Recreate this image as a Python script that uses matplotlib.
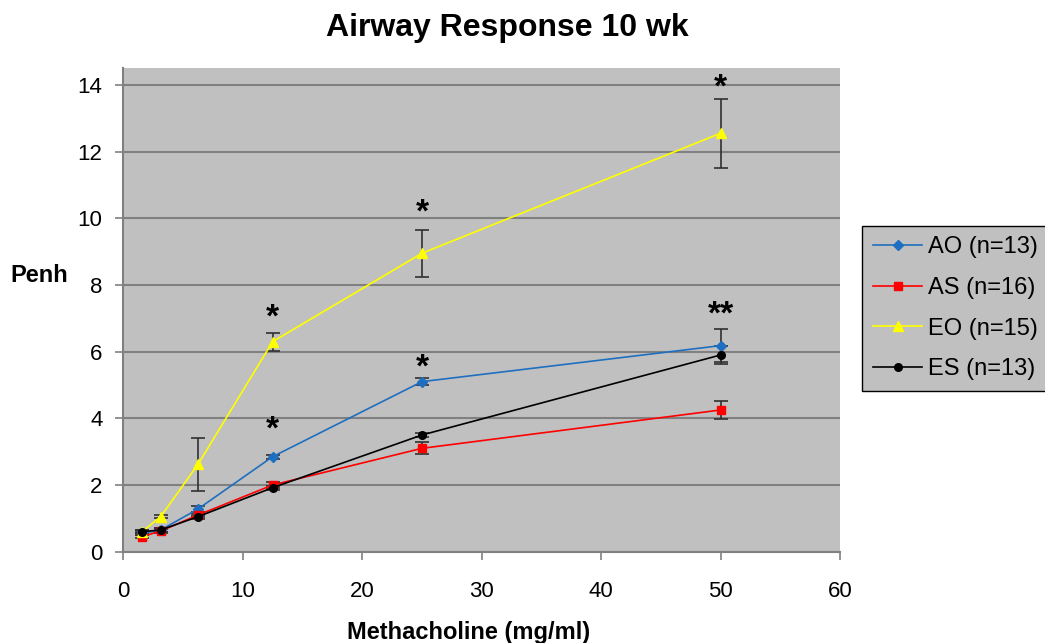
import matplotlib
matplotlib.use("Agg")
import matplotlib.pyplot as plt

plt.rcParams['font.family'] = ['Liberation Sans', 'DejaVu Sans']

dose = [1.5625, 3.125, 6.25, 12.5, 25, 50]
series_names = ["AO (n=13)", "AS (n=16)", "EO (n=15)", "ES (n=13)"]
ao = [0.55, 0.65, 1.28, 2.85, 5.10, 6.18]
ao_err = [0.05, 0.05, 0.08, 0.06, 0.10, 0.50]
as_ = [0.45, 0.62, 1.10, 2.00, 3.10, 4.25]
as_err = [0.05, 0.05, 0.06, 0.08, 0.18, 0.28]
eo = [0.60, 1.05, 2.62, 6.30, 8.95, 12.55]
eo_err = [0.05, 0.05, 0.80, 0.27, 0.70, 1.03]
es = [0.60, 0.65, 1.05, 1.92, 3.50, 5.90]
es_err = [0.04, 0.05, 0.06, 0.06, 0.06, 0.28]

star_x = [12.5, 12.5, 25, 25, 50, 50]
star_y = [7.0, 3.66, 10.15, 5.52, 13.9, 7.09]
star_txt = ["*", "*", "*", "*", "*", "**"]

colors = ["#1F6FC0", "#FF0000", "#FFFF00", "#000000"]
markers = ["D", "s", "^", "o"]
msizes = [5, 5.5, 7, 5.5]

fig = plt.figure(figsize=(10.45, 6.43), dpi=100)
ax = fig.add_axes([0.118, 0.142, 0.686, 0.753])
ax.set_facecolor("#C0C0C0")

data = [(ao, ao_err), (as_, as_err), (eo, eo_err), (es, es_err)]
handles = []
for (vals, errs), c, m, ms, name in zip(data, colors, markers, msizes, series_names):
    ax.errorbar(dose, vals, yerr=errs, fmt="none", ecolor="#303030",
                elinewidth=1.2, capsize=5, capthick=1.2, zorder=3)
    h, = ax.plot(dose, vals, color=c, marker=m, markersize=ms, linewidth=1.2,
                 markeredgecolor=c, label=name, zorder=4)
    handles.append(h)

for x, y, t in zip(star_x, star_y, star_txt):
    ax.text(x, y, t, ha="center", va="center", fontsize=24, fontweight="bold", zorder=5)

ax.set_xlim(0, 60)
ax.set_ylim(0, 14.52)
ax.set_xticks(range(0, 61, 10))
ax.set_yticks(range(0, 15, 2))
ax.tick_params(labelsize=16, direction="out", length=6, color="#808080", width=1.2)
ax.tick_params(axis="x", pad=15)
ax.tick_params(axis="y", pad=9)
ax.yaxis.grid(True, color="#808080", linewidth=1.5)
ax.set_axisbelow(True)
for s in ["top", "right"]:
    ax.spines[s].set_visible(False)
for s in ["left", "bottom"]:
    ax.spines[s].set_color("#808080")
    ax.spines[s].set_linewidth(1.5)

fig.text(0.485, 0.957, "Airway Response 10 wk", ha="center", va="center",
         fontsize=23, fontweight="bold")
fig.text(0.448, 0.017, "Methacholine (mg/ml)", ha="center", va="center",
         fontsize=17, fontweight="bold")
fig.text(0.0375, 0.572, "Penh", ha="center", va="center",
         fontsize=17, fontweight="bold")

leg = fig.legend(handles=handles, loc="upper left", bbox_to_anchor=(0.825, 0.649),
                 fontsize=17, frameon=True, fancybox=False, facecolor="#C0C0C0",
                 edgecolor="#000000", framealpha=1, handlelength=2.1, labelspacing=0.79,
                 borderpad=0.45, handletextpad=0.25, borderaxespad=0)
leg.get_frame().set_linewidth(1.0)

fig.savefig("out.png", dpi=100)
